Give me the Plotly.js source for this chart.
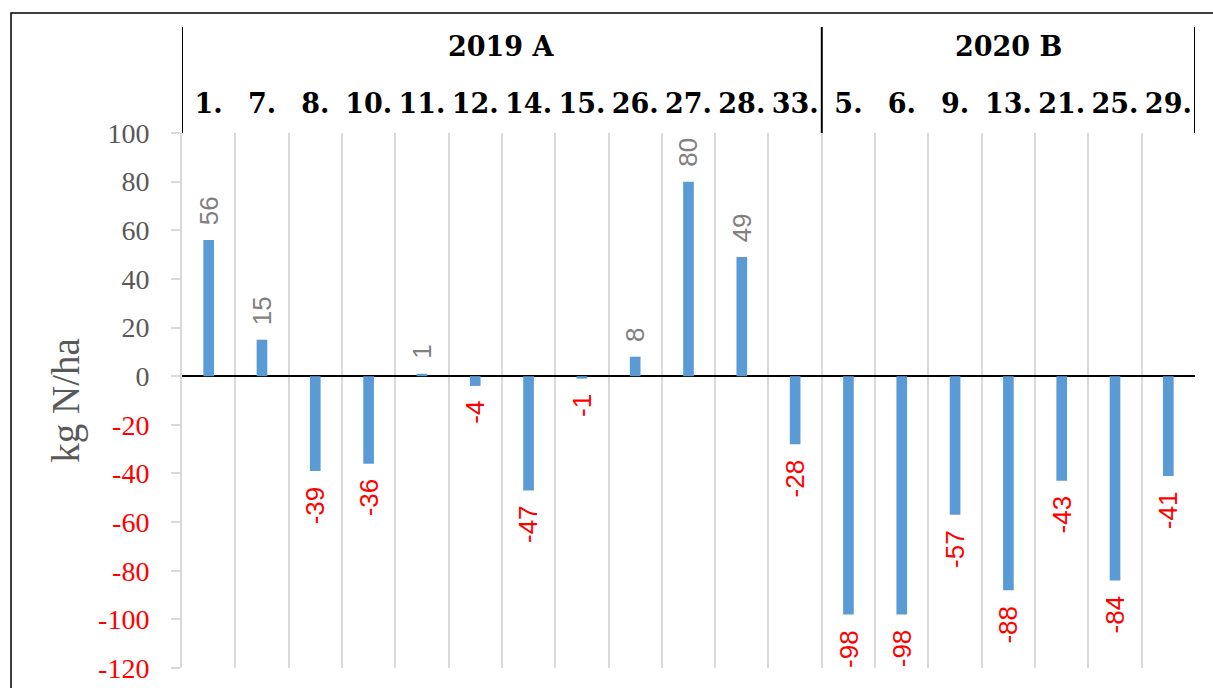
<!DOCTYPE html>
<html>
<head>
<meta charset="utf-8">
<script src="https://cdn.plot.ly/plotly-3.0.1.min.js"></script>
<style>
html,body{margin:0;padding:0;background:#fff;}
#chart{width:1213px;height:688px;}
</style>
</head>
<body>
<div id="chart"></div>
<script>
// ---- data ----
const categories = ['1.','7.','8.','10.','11.','12.','14.','15.','26.','27.','28.','33.','5.','6.','9.','13.','21.','25.','29.'];
const values = [56, 15, -39, -36, 1, -4, -47, -1, 8, 80, 49, -28, -98, -98, -57, -88, -43, -84, -41];
const groupNames = ['2019 A', '2020 B'];
const groupSizes = [12, 7];
const yTickVals = [-120, -100, -80, -60, -40, -20, 0, 20, 40, 60, 80, 100];
const yTitle = 'kg N/ha';

// ---- styles ----
const BAR = '#5B9BD5';
const GRAY_TICK = '#595959';
const GRAY_LBL = '#808080';
const RED = '#FF0000';
const SERIF = '"Liberation Serif", "Times New Roman", serif';
const HEAD = '"DejaVu Serif", "Liberation Serif", serif';
const SANS = '"Liberation Sans", Arial, sans-serif';

const yTickText = yTickVals.map(v => v < 0 ? '<span style="color:' + RED + '">' + v + '</span>' : String(v));

const annotations = [];
values.forEach((v, i) => {
  const pos = v >= 0;
  annotations.push({
    x: i, y: v, xref: 'x', yref: 'y',
    text: String(v), showarrow: false, textangle: -90,
    xanchor: 'center', yanchor: pos ? 'bottom' : 'top',
    yshift: pos ? 13 : -13,
    font: {family: SANS, size: 26, color: pos ? GRAY_LBL : RED}
  });
});

// group headers
const shapes = [];
let start = 0;
const sepY0 = 1.0, sepY1 = (668 - 27) / 535;
shapes.push({type: 'line', xref: 'x', yref: 'paper', x0: -0.5, x1: -0.5, y0: sepY0, y1: sepY1, line: {color: '#000', width: 2}});
groupNames.forEach((g, k) => {
  const n = groupSizes[k];
  const center = start + (n - 1) / 2;
  annotations.push({
    x: center, y: (668 - 46) / 535, xref: 'x', yref: 'paper',
    text: '<b>' + g + '</b>', showarrow: false, xanchor: 'center', yanchor: 'middle',
    font: {family: HEAD, size: 27, color: '#000'}
  });
  start += n;
  shapes.push({type: 'line', xref: 'x', yref: 'paper', x0: start - 0.5, x1: start - 0.5, y0: sepY0, y1: sepY1, line: {color: '#000', width: 2}});
});

// outer frame
shapes.push({type: 'rect', xref: 'paper', yref: 'paper',
  x0: (11 - 182) / 1013, x1: (1230 - 182) / 1013,
  y0: (668 - 710) / 535, y1: (668 - 13) / 535,
  line: {color: '#000', width: 1.5}, fillcolor: 'rgba(0,0,0,0)', layer: 'below'});

const trace = {
  type: 'bar', x: categories, y: values,
  marker: {color: BAR}, width: 0.2,
  hoverinfo: 'x+y'
};

const layout = {
  width: 1213, height: 688,
  margin: {l: 182, r: 18, t: 133, b: 20, pad: 0},
  paper_bgcolor: '#fff', plot_bgcolor: '#fff',
  showlegend: false,
  xaxis: {
    type: 'category', side: 'top',
    categoryorder: 'array', categoryarray: categories,
    range: [-0.5, categories.length - 0.5],
    tickmode: 'linear', tick0: 0, dtick: 1, tickangle: 0,
    tickson: 'boundaries', ticks: '',
    showgrid: true, gridcolor: '#D9D9D9', gridwidth: 2,
    showline: false, zeroline: false,
    tickfont: {family: HEAD, size: 27, color: '#000', weight: 'bold'},
    ticklabelstandoff: 14,
    fixedrange: true
  },
  yaxis: {
    range: [-120, 100], tickvals: yTickVals, ticktext: yTickText,
    showgrid: false, zeroline: true, zerolinecolor: '#000', zerolinewidth: 2,
    showline: true, linecolor: '#D9D9D9', linewidth: 2,
    ticks: 'outside', ticklen: 9, tickcolor: '#D9D9D9', tickwidth: 2,
    tickfont: {family: SERIF, size: 28, color: GRAY_TICK},
    ticklabelstandoff: 16,
    title: {text: yTitle, font: {family: SERIF, size: 39, color: GRAY_TICK}, standoff: 6},
    fixedrange: true
  },
  annotations: annotations,
  shapes: shapes
};

Plotly.newPlot('chart', [trace], layout, {displayModeBar: false, staticPlot: true});
</script>
</body>
</html>
